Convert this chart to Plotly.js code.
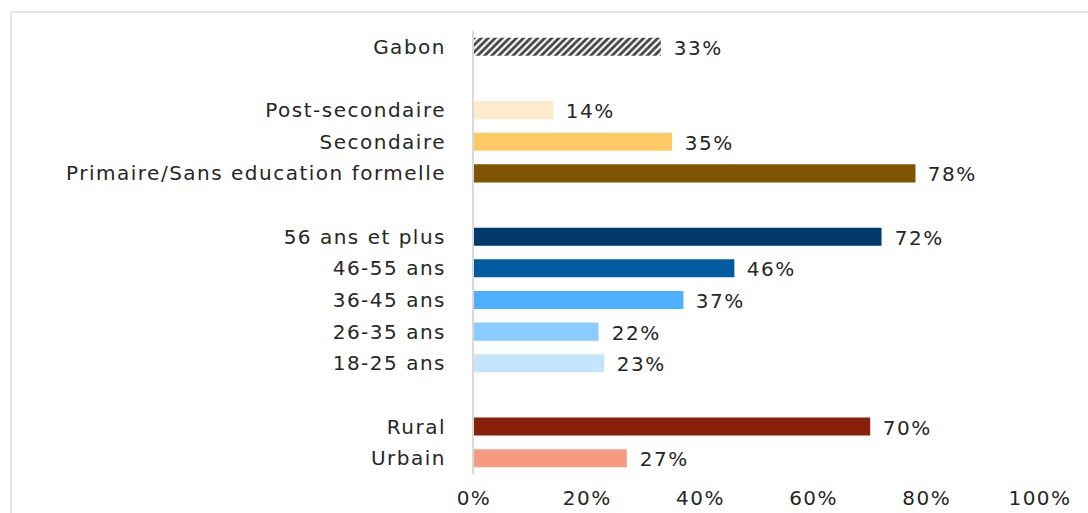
<!DOCTYPE html>
<html>
<head>
<meta charset="utf-8">
<script src="https://cdn.plot.ly/plotly-3.0.1.min.js"></script>
<style>
html,body{margin:0;padding:0;background:#fff;}
#frame{position:absolute;left:10px;top:11px;width:1100px;height:520px;border-left:2px solid #e6e6e6;border-top:2px solid #e6e6e6;}
#chart{position:absolute;left:0;top:0;width:1088px;height:513px;}
#chart text{letter-spacing:1.5px;}
</style>
</head>
<body>
<div id="frame"></div>
<div id="chart"></div>
<script>
// Categories top to bottom; blank strings are spacer rows
const categories = ["Gabon", " ", "Post-secondaire", "Secondaire", "Primaire/Sans education formelle", "  ",
  "56 ans et plus", "46-55 ans", "36-45 ans", "26-35 ans", "18-25 ans", "   ", "Rural", "Urbain"];
const values = [33, null, 14, 35, 78, null, 72, 46, 37, 22, 23, null, 70, 27];
const colors = ["#ffffff", "#ffffff", "#fdebcb", "#ffca66", "#7f5500", "#ffffff",
  "#003a6b", "#005ba1", "#4db0ff", "#8accff", "#c4e4ff", "#ffffff", "#87210b", "#f79a82"];
const patterns = ["/", "", "", "", "", "", "", "", "", "", "", "", "", ""];
const xTickVals = [0, 20, 40, 60, 80, 100];
const xTickText = ["0%", "20%", "40%", "60%", "80%", "100%"];

const font = "'DejaVu Sans', sans-serif";
const fs = 20;

const trace = {
  type: "bar",
  orientation: "h",
  y: categories,
  x: values,
  width: 0.57,
  marker: {
    color: colors,
    pattern: {shape: patterns, fgcolor: "#000000", bgcolor: "#ffffff", fgopacity: 1, size: 5, solidity: 0.55, fillmode: "overlay"},
    line: {width: 0}
  },
  hoverinfo: "skip"
};

const annotations = [];
categories.forEach((c, i) => {
  if (values[i] === null) return;
  annotations.push({
    x: values[i], y: c, xref: "x", yref: "y",
    text: values[i] + "%",
    showarrow: false, xanchor: "left", yanchor: "middle",
    xshift: 13, yshift: -1,
    font: {family: font, size: fs, color: "#262626"}
  });
});

const layout = {
  width: 1088, height: 513,
  margin: {l: 474, r: 48, t: 31, b: 39},
  paper_bgcolor: "rgba(0,0,0,0)",
  plot_bgcolor: "rgba(0,0,0,0)",
  showlegend: false,
  font: {family: font, size: fs, color: "#262626"},
  annotations: annotations,
  xaxis: {
    range: [0, 100],
    tickvals: xTickVals,
    ticktext: xTickText,
    showgrid: false,
    zeroline: false,
    showline: false,
    ticks: "outside",
    ticklen: 6,
    tickcolor: "rgba(0,0,0,0)",
    tickfont: {family: font, size: fs, color: "#262626"}
  },
  yaxis: {
    type: "category",
    categoryorder: "array",
    categoryarray: categories,
    autorange: "reversed",
    showgrid: false,
    zeroline: false,
    showline: true,
    linecolor: "#d9d9d9",
    linewidth: 2,
    ticks: "outside",
    ticklen: 22,
    tickcolor: "rgba(0,0,0,0)",
    tickfont: {family: font, size: fs, color: "#262626"}
  }
};

Plotly.newPlot("chart", [trace], layout, {displayModeBar: false, staticPlot: true});
</script>
</body>
</html>
